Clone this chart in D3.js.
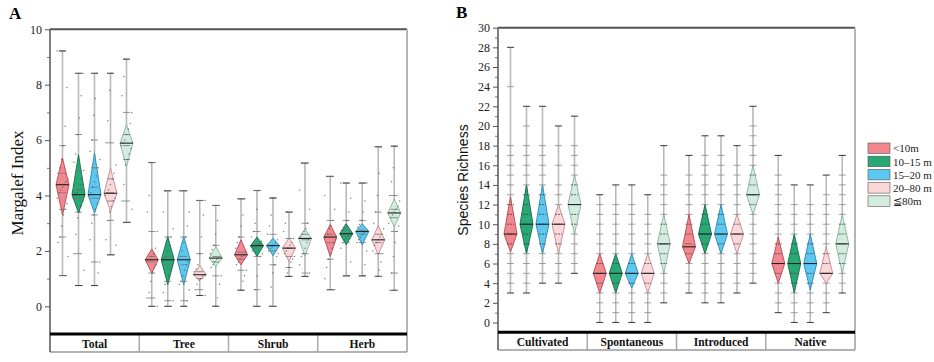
<!DOCTYPE html>
<html><head><meta charset="utf-8">
<script src="https://cdn.jsdelivr.net/npm/d3@7"></script>
<style>body{margin:0;background:#fff}svg{display:block}</style>
</head><body>
<svg id="c" width="934" height="362"></svg>
<script>
// ---------- data ----------
const groups = ["<10m","10–15 m","15–20 m","20–80 m","≦80m"];
const fills = ["#f2878f","#27a874","#5cc8ef","#fbd7da","#d3ecdf"];
const strokes = ["#b24a55","#166b49","#2f86ad","#c08c92","#86b29c"];

const catsA = ["Total","Tree","Shrub","Herb"];
const ticksA = [0,2,4,6,8,10];
const minorA = [1,3,5,7,9];
// per category: 5 groups
const minA = [[1.11,0.75,0.75,1.86,3.03],[0,0,0,0.39,0],[0.58,0,0,1.08,1.08],[0.6,1.1,1.1,1.08,0.58]];
const maxA = [[9.22,8.41,8.41,8.41,8.92],[5.19,4.17,4.17,3.82,3.64],[3.88,4.18,3.91,3.4,5.17],[4.69,4.45,4.45,5.76,5.78]];
const loA  = [[3.3,3.37,3.37,3.43,5.05],[1.2,0.78,0.78,0.94,1.44],[1.5,1.8,1.83,1.62,1.83],[1.8,2.22,2.22,1.86,2.86]];
const hiA  = [[5.35,5.47,5.53,4.99,6.55],[2.07,2.52,2.52,1.47,2.16],[2.4,2.5,2.46,2.47,2.79],[2.95,2.98,2.98,2.91,3.87]];
const midA = [[4.39,4.03,4.03,4.08,5.89],[1.68,1.68,1.68,1.14,1.74],[1.86,2.19,2.19,2.1,2.45],[2.5,2.62,2.7,2.4,3.37]];
const ptsA = [
 [[9.22,7.9,6.5,5.8,5.3,5.0,4.8,4.6,4.5,4.4,4.3,4.2,4.1,3.9,3.7,3.5,3.3,2.9,2.5,2.3,1.8,1.11],
  [8.41,7.6,6.8,6.2,5.5,5.2,4.9,4.6,4.4,4.2,4.1,4.0,3.9,3.8,3.6,3.4,3.2,2.6,1.9,1.3,0.75],
  [8.41,7.5,6.9,6.0,5.6,5.3,5.0,4.7,4.5,4.3,4.1,4.0,3.9,3.7,3.5,3.3,3.0,2.4,1.6,1.2,0.75],
  [8.41,7.8,6.7,5.9,5.1,4.8,4.6,4.4,4.2,4.1,4.0,3.9,3.8,3.6,3.4,3.1,2.4,2.2,1.86],
  [8.92,8.3,7.6,7.0,6.6,6.4,6.2,6.0,5.9,5.8,5.7,5.5,5.3,5.1,4.4,3.8,3.5,3.03]],
 [[5.19,4.0,3.4,2.7,2.1,1.9,1.8,1.7,1.65,1.6,1.5,1.4,1.2,0.9,0.5,0.3,0.0],
  [4.17,3.4,2.8,2.5,2.2,2.0,1.8,1.7,1.6,1.5,1.3,1.1,0.9,0.8,0.5,0.2,0.0],
  [4.17,3.4,2.9,2.5,2.3,2.0,1.8,1.7,1.6,1.5,1.3,1.1,0.9,0.8,0.6,0.2,0.0],
  [3.82,3.3,2.5,1.9,1.5,1.35,1.25,1.15,1.1,1.0,0.95,0.8,0.6,0.39],
  [3.64,3.1,2.6,2.2,2.05,1.9,1.8,1.75,1.7,1.6,1.5,1.4,1.1,0.8,0.3,0.0]],
 [[3.88,3.3,2.9,2.5,2.3,2.1,1.95,1.85,1.8,1.7,1.6,1.5,1.3,1.1,0.9,0.58],
  [4.18,3.5,3.0,2.7,2.5,2.35,2.25,2.2,2.15,2.1,2.0,1.9,1.8,1.5,1.1,0.6,0.0],
  [3.91,3.3,2.9,2.6,2.4,2.3,2.2,2.15,2.1,2.0,1.9,1.8,1.5,1.2,0.7,0.0],
  [3.4,3.0,2.7,2.45,2.3,2.2,2.1,2.0,1.9,1.8,1.7,1.6,1.4,1.2,1.08],
  [5.17,4.2,3.5,3.0,2.8,2.7,2.6,2.5,2.45,2.4,2.3,2.1,1.9,1.8,1.5,1.2,1.08]],
 [[4.69,4.0,3.5,3.1,2.9,2.8,2.6,2.5,2.4,2.3,2.1,1.9,1.7,1.4,1.0,0.6],
  [4.45,3.9,3.4,3.1,2.95,2.85,2.75,2.65,2.6,2.55,2.5,2.4,2.3,2.1,1.6,1.1],
  [4.45,3.8,3.4,3.1,2.95,2.85,2.75,2.7,2.65,2.6,2.5,2.4,2.3,2.0,1.5,1.1],
  [5.76,4.8,4.0,3.4,3.0,2.8,2.6,2.5,2.4,2.3,2.2,2.0,1.9,1.6,1.3,1.08],
  [5.78,5.0,4.5,4.0,3.8,3.6,3.5,3.4,3.3,3.2,3.0,2.9,2.7,2.3,1.8,1.2,0.58]]
];

const catsB = ["Cultivated","Spontaneous","Introduced","Native"];
const ticksB = [0,2,4,6,8,10,12,14,16,18,20,22,24,26,28,30];
const minorB = [1,3,5,7,9,11,13,15,17,19,21,23,25,27,29];
const minB = [[3,3,4,4,5],[0,0,0,0,2],[3,2,2,3,4],[1,0,0,1,3]];
const maxB = [[28,22,22,20,21],[13,14,14,13,18],[17,19,19,18,22],[17,14,14,15,17]];
const loB  = [[7.2,7,7,7,9],[3,3,3.5,3,5],[6,7,7,7,11],[4,3,3.3,4,5]];
const hiB  = [[12.8,14,14,12,15],[7,7,7,7,11],[11,12,12,11,16],[8.7,9,9,7.7,11]];
const midB = [[9,10,10,10,12],[5,5,5,5,8],[7.7,9,9,9,13],[6,6,6,5,8]];
const ptsB = [
 [[3,4,5,6,7,8,9,10,11,12,13,14,15,16,17,18,24,28],
  [3,4,5,6,7,8,9,10,11,12,13,14,15,16,17,18,20,22],
  [4,5,6,7,8,9,10,11,12,13,14,15,16,17,18,22],
  [4,5,6,7,8,9,10,11,12,13,14,16,18,20],
  [5,6,7,8,9,10,11,12,13,14,15,16,17,18,21]],
 [[0,1,2,3,4,5,6,7,8,9,10,11,12,13],
  [0,1,2,3,4,5,6,7,8,9,10,11,12,14],
  [0,1,2,3,4,5,6,7,8,9,10,11,12,14],
  [0,1,2,3,4,5,6,7,8,9,10,11,13],
  [2,3,4,5,6,7,8,9,10,11,12,13,14,15,18]],
 [[3,4,5,6,7,8,9,10,11,12,13,14,15,17],
  [2,3,4,5,6,7,8,9,10,11,12,13,14,15,16,17,19],
  [2,3,4,5,6,7,8,9,10,11,12,13,14,15,16,17,19],
  [3,4,5,6,7,8,9,10,11,12,13,14,15,16,18],
  [4,5,6,7,8,9,10,11,12,13,14,15,16,17,18,19,20,22]],
 [[1,2,3,4,5,6,7,8,9,10,11,12,13,14,15,17],
  [0,1,2,3,4,5,6,7,8,9,10,11,12,14],
  [0,1,2,3,4,5,6,7,8,9,10,11,12,14],
  [1,2,3,4,5,6,7,8,9,10,11,12,13,15],
  [3,4,5,6,7,8,9,10,11,12,13,14,15,17]]
];

// ---------- drawing ----------
const svg = d3.select("#c");
const serif = "'Liberation Serif','Times New Roman',serif";
const sans = "'Liberation Sans',Arial,sans-serif";

function panel(o){
  const g = svg.append("g");
  const x = d3.scaleBand().domain(o.cats).range([o.x0,o.x1]);
  const xi = d3.scaleBand().domain(groups).range([4.5,84.5]);
  const y = d3.scaleLinear().domain(o.dom).range([o.yb,o.yt]);

  // frame
  g.append("line").attr("x1",o.x0).attr("x2",o.x1).attr("y1",o.yt).attr("y2",o.yt).attr("stroke","#555").attr("stroke-width",2);
  g.append("line").attr("x1",o.x1).attr("x2",o.x1).attr("y1",o.yt).attr("y2",o.sb).attr("stroke","#b5b5b5").attr("stroke-width",2);
  g.append("line").attr("x1",o.x0).attr("x2",o.x1).attr("y1",o.sb).attr("y2",o.sb).attr("stroke","#999").attr("stroke-width",1.5);
  o.cats.slice(1).forEach(c=>{
    g.append("line").attr("x1",x(c)).attr("x2",x(c)).attr("y1",o.yb).attr("y2",o.sb).attr("stroke","#aaa").attr("stroke-width",1.5);
  });
  g.selectAll("text.cat").data(o.cats).join("text").attr("class","cat")
    .attr("x",c=>x(c)+x.bandwidth()/2).attr("y",(o.yb+o.sb)/2+4.5)
    .attr("text-anchor","middle").attr("font-family",serif).attr("font-weight","bold").attr("font-size",11.5).attr("fill","#111").text(c=>c);

  // axes
  const ax = d3.axisLeft(y).tickValues(o.ticks).tickSize(5).tickPadding(3);
  const axg = g.append("g").attr("transform",`translate(${o.x0},0)`).call(ax);
  axg.select(".domain").remove();
  axg.selectAll("line").attr("stroke","#555");
  axg.selectAll("text").attr("font-family",serif).attr("font-size",12).attr("fill","#222");
  const axm = d3.axisLeft(y).tickValues(o.minor).tickSize(3).tickFormat("");
  const amg = g.append("g").attr("transform",`translate(${o.x0},0)`).call(axm);
  amg.select(".domain").remove();
  amg.selectAll("line").attr("stroke","#777");
  g.append("line").attr("x1",o.x0).attr("x2",o.x0).attr("y1",o.yt).attr("y2",o.sb).attr("stroke","#555").attr("stroke-width",1.5);

  // glyphs
  o.cats.forEach((c,ci)=>{
    groups.forEach((gr,gi)=>{
      const cx = x(c)+xi(gr)+xi.bandwidth()/2;
      const gg = g.append("g");
      const mn=o.min[ci][gi], mx=o.max[ci][gi], lo=o.lo[ci][gi], hi=o.hi[ci][gi], md=o.mid[ci][gi];
      gg.append("line").attr("x1",cx).attr("x2",cx).attr("y1",y(mn)).attr("y2",y(mx)).attr("stroke","#b8b8b8").attr("stroke-width",1.6);
      [mn,mx].forEach(v=>gg.append("line").attr("x1",cx-3.5).attr("x2",cx+3.5).attr("y1",y(v)).attr("y2",y(v)).attr("stroke","#444").attr("stroke-width",1.1));
      const hw = 6.5;
      gg.append("path").attr("d",`M${cx},${y(hi)}L${cx+hw},${y(md)}L${cx},${y(lo)}L${cx-hw},${y(md)}Z`)
        .attr("fill",fills[gi]).attr("stroke",strokes[gi]).attr("stroke-width",0.9);
      const pts = o.pts[ci][gi];
      if(o.dash){
        pts.forEach(v=>{
          if(v===mn||v===mx) return;
          const inD = v>lo && v<hi;
          gg.append("line").attr("x1",cx-3.5).attr("x2",cx+3.5).attr("y1",y(v)).attr("y2",y(v))
            .attr("stroke",inD?"#444":"#8a8a8a").attr("stroke-width",0.8).attr("stroke-dasharray",inD?"2,1":null);
        });
      } else {
        pts.forEach((v,i)=>{
          const off = (((i*37+gi*11+ci*5)%13)-6)*0.9;
          if(i%3===0){
            gg.append("line").attr("x1",cx-3.5).attr("x2",cx+3.5).attr("y1",y(v)).attr("y2",y(v)).attr("stroke","#777").attr("stroke-width",0.8);
          }
          gg.append("circle").attr("cx",cx+off).attr("cy",y(v)).attr("r",0.75).attr("fill","#555").attr("opacity",0.75);
        });
      }
      gg.append("line").attr("x1",cx-hw).attr("x2",cx+hw).attr("y1",y(md)).attr("y2",y(md)).attr("stroke","#222").attr("stroke-width",1.1);
    });
  });
  // bottom thick line
  g.append("line").attr("x1",o.x0).attr("x2",o.x1).attr("y1",o.yb).attr("y2",o.yb).attr("stroke","#000").attr("stroke-width",3);
  return g;
}

panel({cats:catsA,x0:50,x1:407,yt:29.3,yb:334,sb:352,dom:[-1,10],ticks:ticksA,minor:minorA,
  min:minA,max:maxA,lo:loA,hi:hiA,mid:midA,pts:ptsA,dash:false});
panel({cats:catsB,x0:498,x1:855,yt:27.7,yb:332.3,sb:350,dom:[-1,30],ticks:ticksB,minor:minorB,
  min:minB,max:maxB,lo:loB,hi:hiB,mid:midB,pts:ptsB,dash:true});

// labels
svg.append("text").attr("x",9).attr("y",19).attr("font-family",serif).attr("font-weight","bold").attr("font-size",17).text("A");
svg.append("text").attr("x",456).attr("y",18).attr("font-family",serif).attr("font-weight","bold").attr("font-size",17).text("B");
svg.append("text").attr("transform","translate(23,183) rotate(-90)").attr("text-anchor","middle")
  .attr("font-family",serif).attr("font-size",17).attr("fill","#111").text("Margalef Index");
svg.append("text").attr("transform","translate(468,180) rotate(-90)").attr("text-anchor","middle")
  .attr("font-family",sans).attr("font-size",14).attr("fill","#111").text("Species Richness");

// legend
const lg = svg.append("g");
groups.forEach((gr,i)=>{
  const yy = 143 + i*13.2;
  lg.append("rect").attr("x",868).attr("y",yy).attr("width",22).attr("height",10.5).attr("fill",fills[i]).attr("stroke","#555").attr("stroke-width",0.6);
  lg.append("text").attr("x",893).attr("y",yy+9.3).attr("font-family",serif).attr("font-size",11).attr("fill","#222").text(gr);
});
</script>
</body></html>
